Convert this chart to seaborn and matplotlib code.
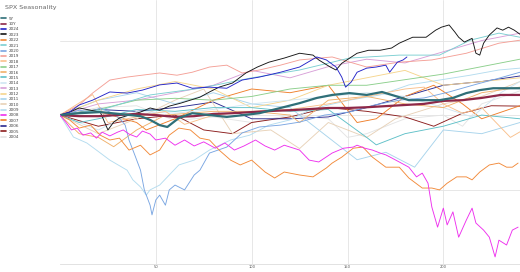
import numpy as np
import pandas as pd
import matplotlib
matplotlib.use("Agg")
import matplotlib.pyplot as plt
import seaborn as sns
from matplotlib.lines import Line2D

# ---- data (day of year, cumulative change; gridlines at +/-20) ----
series_names = ["5Y", "10Y", "2024", "2023", "2022", "2021", "2020", "2019", "2018", "2017",
                "2016", "2015", "2014", "2013", "2012", "2011", "2010", "2009", "2008",
                "2007", "2006", "2005", "2004"]

colors = ["#2f6f78", "#8e2848", "#2323c8", "#151515", "#f28a3a", "#7ccfd2", "#7aa6e2", "#f4a097",
          "#f9c08c", "#8ccf8c", "#f0b06a", "#5fc0c8", "#cfe6f2", "#d8a0d8", "#f6d58e", "#a8d4ec",
          "#e8d2b8", "#b4dcef", "#ee30ee", "#ef7f2a", "#2a2a90", "#8b1c1c", "#e4e4e4"]

d_5y = [0,10,21,31,42,47,52,56,62,69,78,87,96,104,115,125,134,142,151,160,168,177,182,189,198,205,212,219,226,233,240]
v_5y = [0,0.5,0.8,0.3,-0.3,-1.3,-2.7,-3.2,-0.8,0.5,0,-0.5,0,0.5,1.9,3.2,4.6,5.4,5.9,5.4,6.2,4.8,4.0,4.0,4.0,4.6,5.9,6.7,7.2,7.2,7.2]

d_10y = [0,10,20,30,40,50,60,70,80,90,100,110,120,130,140,150,160,170,180,190,200,210,220,230,240]
v_10y = [0,-0.3,-0.3,0,0.3,0,-0.5,-0.3,0.3,0.5,0.8,1.1,1.3,1.6,1.9,1.9,2.1,2.4,2.7,3.0,3.8,4.0,4.6,5.4,5.4]

d_2024 = [0,5,10,17,26,35,43,52,61,69,78,87,95,104,115,125,134,139,144,147,149,152,155,160,165,170,172,176,179,181]
v_2024 = [0,0.8,2.7,4.0,6.2,5.9,6.7,8.1,8.6,7.2,7.5,7.2,9.4,10.2,11.5,12.9,15.6,14.8,12.9,10.2,7.5,8.9,11.5,12.6,12.9,13.4,11.5,14.2,14.8,15.6]

d_2023 = [0,5,10,16,21,25,28,31,36,42,47,52,57,63,68,73,78,83,90,97,103,109,117,125,132,135,141,144,147,155,
          161,167,173,177,184,191,196,199,203,206,208,211,215,217,219,221,224,228,231,234,237,240]
v_2023 = [0,0.8,1.9,1.3,0.8,-4.0,-1.9,-0.8,0,0.8,1.9,1.3,2.4,3.2,4.0,4.8,6.2,7.5,8.6,11.3,12.9,14.2,15.3,16.6,16.1,14.8,12.9,12.1,13.9,16.6,
          17.4,17.4,18.0,19.3,20.9,20.9,22.8,23.6,24.2,22.3,20.9,19.6,20.6,16.6,16.1,19.3,21.5,23.4,22.8,23.6,22.8,21.7]

d_2022 = [0,5,10,16,21,26,31,36,42,47,52,57,62,68,73,78,83,89,94,100,107,112,117,125,132,139,142,147,153,158,
          163,170,177,182,189,194,198,202,207,212,215,219,224,229,233,236,239]
v_2022 = [0,-1.3,-3.5,-2.7,-5.4,-6.7,-6.2,-9.4,-8.1,-10.7,-9.4,-5.4,-3.5,-4.0,-6.2,-6.7,-9.4,-12.1,-13.4,-12.1,
          -15.3,-16.9,-15.3,-16.1,-16.6,-14.2,-12.9,-11.3,-8.9,-8.6,-11.3,-14.0,-14.0,-16.9,-19.6,-19.6,-20.1,-18.3,
          -16.6,-16.6,-17.4,-15.3,-13.4,-12.9,-14.0,-14.0,-12.9]

d_2021 = [0,21,47,73,99,125,151,177,198,214,229,240]
v_2021 = [0,1.3,5.4,7.2,9.9,12.1,15.3,16.1,16.1,20.1,22.0,20.9]

d_2020 = [0,5,10,16,21,26,31,34,36,39,42,44,47,48,50,52,55,57,60,65,70,73,78,87,95,104,115,125,138,151,164,177,190,203,216,229,240]
v_2020 = [0,0.5,1.3,0.8,1.9,0.8,-0.8,-2.7,-6.7,-10.7,-14.8,-20.1,-24.2,-26.8,-22.8,-21.5,-24.2,-20.1,-18.8,-20.1,
          -16.1,-14.8,-10.2,-8.6,-4.8,-3.2,-2.7,-1.9,0,0.8,2.7,4.0,4.6,6.2,8.1,9.9,11.5]

d_2019 = [0,10,17,26,35,52,61,69,78,87,95,104,115,125,142,160,177,194,212,229,240]
v_2019 = [0,2.7,5.9,9.4,10.2,11.3,10.7,11.5,12.9,13.4,11.3,12.1,13.4,14.8,15.6,12.9,14.2,14.8,16.6,19.3,20.1]

d_2018 = [0,17,25,40,55,65,80,100,120,140,160,180,190,200,210,220,235,240]
v_2018 = [0,5.5,-2,-0.5,1,-2.5,0,1,1.5,3,5,7,7.5,3,0.5,2,-6,-4.5]

d_2017 = [0,20,40,60,80,100,120,140,160,180,200,220,240]
v_2017 = [0,1.5,4,4.5,4,5,7,8,8,9.5,11,13,15]

d_2016 = [0,10,20,28,40,55,80,100,120,125,140,160,180,200,210,220,240]
v_2016 = [0,-5,-6,-8.5,-4,0,1,1,0,-2,4,5,3,2,4,6,7.5]

d_2015 = [0,10,20,40,60,80,100,120,140,160,165,180,200,220,240]
v_2015 = [0,-2,-1,1.5,1,2,2,1,1.5,-6,-8,-5,-3,0,-1]

d_2014 = [0,20,40,60,80,100,120,140,160,180,200,215,230,240]
v_2014 = [0,-4,1,0.5,1.5,3,4,5,6,5,2,-0.5,6,9]

d_2013 = [0,20,40,60,80,100,120,140,160,180,200,220,240]
v_2013 = [0,3,4,6,8,12,10,13,15,14,17,20,22]

d_2012 = [0,20,40,60,80,100,120,140,160,180,200,220,240]
v_2012 = [0,4,7,9,7,2,4,8,10,12,8,9,10]

d_2011 = [0,20,40,60,80,100,120,140,155,170,185,200,220,240]
v_2011 = [0,4,6,3,6,3,2,-6,-12,-10,-14,-4,-5,-2]

d_2010 = [0,20,40,60,75,90,110,125,140,160,175,200,220,240]
v_2010 = [0,-5,-1,4,7,-5,-4,-9,-2,-6,-1,3,5,9]

d_2009 = [0,7,14,19,26,35,38,42,45,47,52,57,62,70,78,89,99,109,120,130,140,151,167,182,198,214,229,240]
v_2009 = [0,-5.9,-7.5,-9.4,-12.1,-14.8,-17.4,-19.3,-21.5,-20.1,-18.8,-16.1,-13.4,-12.1,-9.4,-6.7,-5.4,-2.7,-1.3,1.3,
          2.7,4.0,5.4,8.1,9.4,10.7,12.1,12.6]

d_2008 = [0,3,6,9,12,16,19,22,26,30,33,36,40,43,47,50,55,60,65,70,75,81,86,91,96,102,107,112,117,125,
          130,135,142,148,153,155,159,163,167,170,173,177,182,186,189,192,194,197,200,202,205,208,212,215,217,
          221,224,227,229,233,236,239]
v_2008 = [0,-1.9,-4.0,-3.5,-5.4,-4.8,-6.2,-4.6,-5.6,-4.6,-4.0,-5.1,-5.9,-4.3,-5.1,-6.7,-6.2,-8.1,-6.7,-8.3,
          -7.2,-8.9,-7.5,-9.4,-8.3,-6.7,-8.3,-9.4,-8.1,-9.4,-12.1,-12.6,-10.2,-8.9,-8.6,-8.1,-8.9,-9.4,-10.2,-10.7,
          -11.5,-12.6,-14.0,-16.6,-15.6,-18.3,-24.7,-30.1,-25.0,-29.5,-26.0,-32.8,-28.2,-25.0,-29.0,-30.9,-32.8,
          -38.1,-33.6,-34.9,-30.9,-30.1]

d_2007 = [0,20,40,45,60,80,100,120,140,155,165,180,195,210,220,240]
v_2007 = [0,1,-2,-4,-1,4,7,6,8,-2,-1,5,8,3,-1,2.5]

d_2006 = [0,20,40,60,80,100,120,140,160,180,200,220,240]
v_2006 = [0,1.5,1,2,3.5,-1,-1,-0.5,2,5,8,9,10.5]

d_2005 = [0,20,40,60,75,90,100,120,140,160,180,195,210,225,240]
v_2005 = [0,-3,-1,0,-4,-5,-2,-0.5,2,1,-0.5,-3,0.5,2.5,2.4]

d_2004 = [0,20,40,60,80,100,120,140,150,160,180,200,210,220,240]
v_2004 = [0,2,2.5,-1.5,-0.5,-2,0,-1,-6,-5,-1,0,-3,3,6.5]

days = [d_5y, d_10y, d_2024, d_2023, d_2022, d_2021, d_2020, d_2019, d_2018, d_2017, d_2016, d_2015,
        d_2014, d_2013, d_2012, d_2011, d_2010, d_2009, d_2008, d_2007, d_2006, d_2005, d_2004]
vals = [v_5y, v_10y, v_2024, v_2023, v_2022, v_2021, v_2020, v_2019, v_2018, v_2017, v_2016, v_2015,
        v_2014, v_2013, v_2012, v_2011, v_2010, v_2009, v_2008, v_2007, v_2006, v_2005, v_2004]

frames = []
for name, d, v in zip(series_names, days, vals):
    frames.append(pd.DataFrame({"day": d, "value": v, "series": name}))
df = pd.concat(frames, ignore_index=True)

sns.set_theme(style="white")
plt.rcParams["font.family"] = ["DejaVu Sans"]

fig = plt.figure(figsize=(5.2, 2.72), dpi=100)
ax = fig.add_axes([60 / 520, 1 - 264 / 272, 1 - 60 / 520, 264 / 272])

palette = dict(zip(series_names, colors))
draw_order = list(reversed(series_names))
for i, name in enumerate(draw_order):
    sub = df[df["series"] == name]
    lw = 1.6 if name in ("5Y", "10Y") else 0.65
    z = 5 + i
    if name == "2008":
        z = 40
    sns.lineplot(data=sub, x="day", y="value", color=palette[name], lw=lw, ax=ax,
                 estimator=None, sort=False, legend=False, zorder=z)

ax.set_xlim(0, 240)
ax.set_ylim(-40, 30.9)
ax.set_xticks([50, 100, 150, 200])
ax.set_yticks([-20, 0, 20])
ax.set_yticklabels([])
ax.grid(True, color="#e3e3e3", lw=0.6)
ax.set_axisbelow(True)
for s in ["left", "right", "top"]:
    ax.spines[s].set_visible(False)
ax.spines["bottom"].set_color("#dddddd")
ax.spines["bottom"].set_linewidth(0.6)
ax.tick_params(axis="x", labelsize=2.6, colors="#555555", length=0, pad=1)
ax.tick_params(axis="y", length=0)
ax.set_xlabel("")
ax.set_ylabel("")

handles = [Line2D([0], [0], color=c, lw=1.2) for c in colors]
fig.legend(handles, series_names, loc="upper left", bbox_to_anchor=(0.0, 1 - 15.5 / 272),
           frameon=False, fontsize=3, handlelength=1.2, handletextpad=0.6,
           labelspacing=0.33, borderpad=0.3, borderaxespad=0.0, labelcolor="#444444")

fig.text(5 / 520, 1 - 8 / 272, "SPX Seasonality", fontsize=4.6, color="#666666", va="center", ha="left")

fig.savefig("out.png", dpi=100)
